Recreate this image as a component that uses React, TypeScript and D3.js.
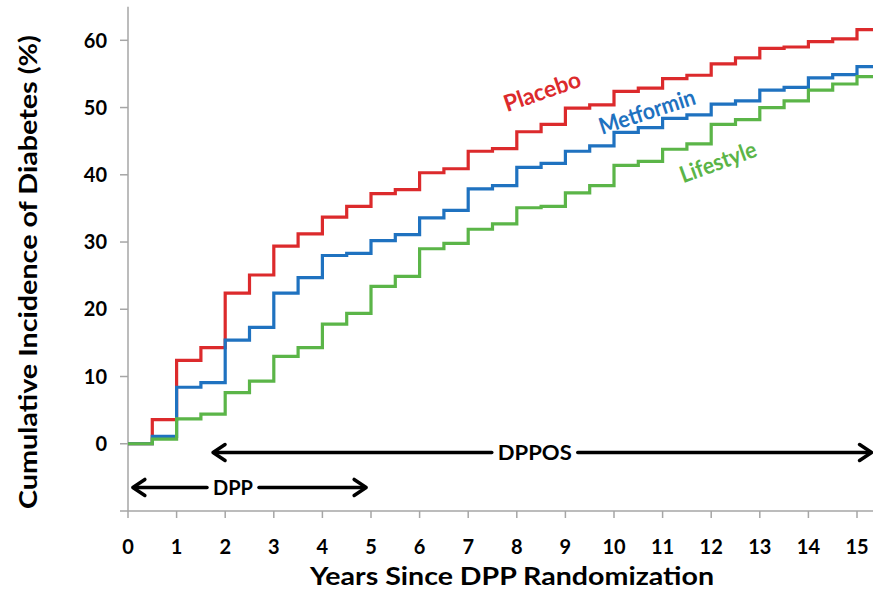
import React from 'react';
import * as d3 from 'd3';

const stepYears = [0, 0.5, 1, 1.5, 2, 2.5, 3, 3.5, 4, 4.5, 5, 5.5, 6, 6.5, 7, 7.5, 8, 8.5, 9, 9.5, 10, 10.5, 11, 11.5, 12, 12.5, 13, 13.5, 14, 14.5, 15];
const followUpEnd = 15.35;

const placebo = [0, 3.6, 12.4, 14.3, 22.4, 25.1, 29.4, 31.2, 33.7, 35.3, 37.2, 37.8, 40.3, 40.9, 43.5, 43.9, 46.4, 47.5, 49.9, 50.4, 52.4, 52.9, 54.3, 54.8, 56.5, 57.4, 58.8, 59.0, 59.8, 60.2, 61.6];
const metformin = [0, 1.1, 8.4, 9.1, 15.4, 17.3, 22.4, 24.7, 28.0, 28.3, 30.2, 31.1, 33.6, 34.7, 37.9, 38.4, 41.1, 41.7, 43.5, 44.3, 46.3, 47.0, 48.4, 48.9, 50.5, 51.0, 52.6, 53.0, 54.4, 54.9, 56.1];
const lifestyle = [0, 0.7, 3.7, 4.4, 7.6, 9.3, 13.0, 14.3, 17.8, 19.4, 23.4, 24.9, 29.0, 29.8, 31.9, 32.7, 35.1, 35.3, 37.3, 38.4, 41.4, 42.0, 43.8, 44.6, 47.5, 48.2, 50.0, 51.0, 52.6, 53.5, 54.6];

const seriesNames = ['Placebo', 'Metformin', 'Lifestyle'];
const seriesColors = ['#dc2a2c', '#1f72c0', '#5bb548'];

const xTicks = [0, 1, 2, 3, 4, 5, 6, 7, 8, 9, 10, 11, 12, 13, 14, 15];
const yTicks = [0, 10, 20, 30, 40, 50, 60];

const periodNames = ['DPPOS', 'DPP'];
const periodStart = [1.75, 0.1];
const periodEnd = [15.3, 4.9];

const W = 873;
const H = 592;
const FONT = "Lato, 'Open Sans', sans-serif";

export default function App() {
  const x = d3.scaleLinear().domain([0, 15]).range([128, 857]);
  const y = d3.scaleLinear().domain([-10, 60]).range([511, 40.3]);

  const line = d3.line<[number, number]>()
    .x(d => x(d[0]))
    .y(d => y(d[1]))
    .curve(d3.curveStepAfter);

  const series = [placebo, metformin, lifestyle].map((vals, i) => {
    const pts: [number, number][] = stepYears.map((t, j) => [t, vals[j]]);
    pts.push([followUpEnd, vals[vals.length - 1]]);
    return { name: seriesNames[i], color: seriesColors[i], d: line(pts) as string };
  });

  // curve labels (data coords) and arrow rows
  const labelPos = [
    { t: 8.52, v: 52.4, rot: -19, w: 80 },
    { t: 10.68, v: 49.4, rot: -18, w: 100 },
    { t: 12.14, v: 41.9, rot: -20, w: 80 },
  ];
  const arrowLevel = [-1.3, -6.5];
  const arrowLabelAt = [8.37, 2.16];
  const arrowLabelW = [74, 40];

  const chevron = (tipX: number, tipY: number, dir: number) =>
    `M${tipX + dir * 12},${tipY - 8}L${tipX},${tipY}L${tipX + dir * 12},${tipY + 8}`;

  return (
    <svg width={W} height={H} style={{ position: 'absolute', left: 0, top: 0, background: '#fff' }}
      fontFamily={FONT}>
      {/* axes */}
      <line x1={x(0)} x2={x(0)} y1={y(65)} y2={y(-10)} stroke="#a6a6a6" strokeWidth={1.5} />
      <line x1={x(0) - 8} x2={W} y1={y(-10)} y2={y(-10)} stroke="#a6a6a6" strokeWidth={1.5} />
      {yTicks.map(v => (
        <g key={'y' + v}>
          <line x1={x(0) - 8} x2={x(0)} y1={y(v)} y2={y(v)} stroke="#a6a6a6" strokeWidth={1.5} />
          <text x={107} y={y(v)} dy="0.36em" textAnchor="end" fontSize={20} fontWeight="bold" fill="#000">{v}</text>
        </g>
      ))}
      {xTicks.map(t => (
        <g key={'x' + t}>
          <line x1={x(t)} x2={x(t)} y1={y(-10)} y2={y(-10) + 7} stroke="#a6a6a6" strokeWidth={1.5} />
          <text x={x(t)} y={554} textAnchor="middle" fontSize={20} fontWeight="bold" fill="#000">{t}</text>
        </g>
      ))}

      {/* titles */}
      <text x={512} y={585} textAnchor="middle" fontSize={25} fontWeight="bold" fill="#000"
        textLength={404} lengthAdjust="spacingAndGlyphs">Years Since DPP Randomization</text>
      <text transform="translate(37,272) rotate(-90)" textAnchor="middle" fontSize={25} fontWeight="bold" fill="#000"
        textLength={474} lengthAdjust="spacingAndGlyphs">Cumulative Incidence of Diabetes (%)</text>

      {/* curves: red underneath, green on top */}
      {series.map(s => (
        <path key={s.name} d={s.d} fill="none" stroke={s.color} strokeWidth={3.2} />
      ))}

      {series.map((s, i) => (
        <text key={'lab' + s.name}
          transform={`translate(${x(labelPos[i].t)},${y(labelPos[i].v)}) rotate(${labelPos[i].rot})`}
          textAnchor="middle" dy="0.35em" fontSize={23} fontWeight="bold" fill={s.color}
          textLength={labelPos[i].w} lengthAdjust="spacingAndGlyphs">{s.name}</text>
      ))}

      {/* study period arrows */}
      {periodNames.map((name, i) => {
        const yy = y(arrowLevel[i]);
        const x0 = x(periodStart[i]);
        const x1 = x(periodEnd[i]);
        const cx = x(arrowLabelAt[i]);
        const hw = arrowLabelW[i] / 2 + 6;
        return (
          <g key={name} stroke="#000" strokeWidth={3.5} fill="none" strokeLinecap="round" strokeLinejoin="round">
            <line x1={x0 + 1} x2={cx - hw} y1={yy} y2={yy} />
            <line x1={cx + hw} x2={x1 - 1} y1={yy} y2={yy} />
            <path d={chevron(x0, yy, 1)} />
            <path d={chevron(x1, yy, -1)} />
            <text x={cx} y={yy} dy="0.36em" textAnchor="middle" fontSize={20} fontWeight="bold"
              fill="#000" stroke="none" textLength={arrowLabelW[i]} lengthAdjust="spacingAndGlyphs">{name}</text>
          </g>
        );
      })}
    </svg>
  );
}
